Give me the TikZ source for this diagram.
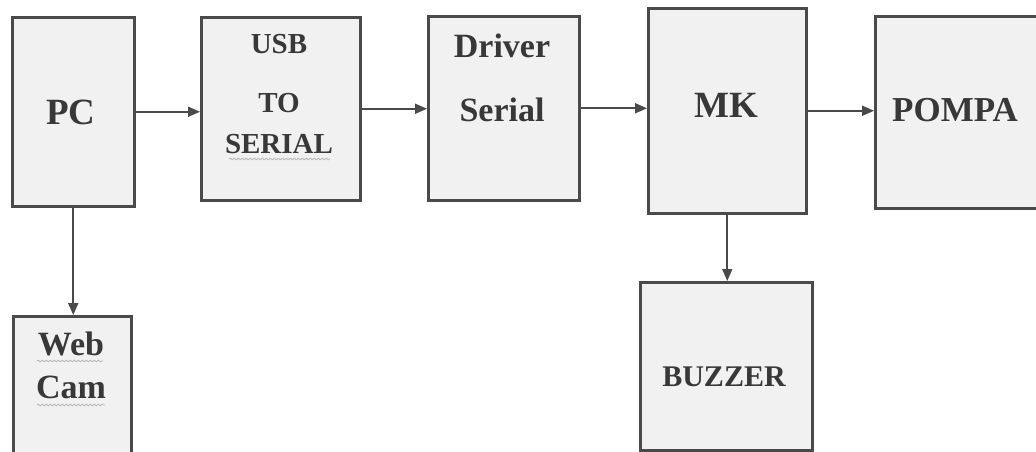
\documentclass[tikz,border=0pt]{standalone}
\usepackage{fontspec}
\setmainfont{Liberation Serif}
\usetikzlibrary{arrows.meta,decorations.pathmorphing}
\definecolor{boxfill}{HTML}{F1F1F1}
\definecolor{boxline}{HTML}{4A4A4A}
\definecolor{ink}{HTML}{383838}
\newcommand\bsize[1]{\bfseries\fontsize{#1}{#1}\selectfont}
\tikzset{
  block/.style={draw=boxline, line width=2.5pt, fill=boxfill, anchor=north west, inner sep=0pt},
  txt/.style={text=ink, inner sep=0pt},
  flow/.style={draw=boxline, line width=1.8pt, -{Triangle[length=12pt,width=10pt]}},
  squiggle/.style={draw=gray!55, line width=0.8pt, decorate,
    decoration={snake, amplitude=0.9pt, segment length=4pt}}
}
\begin{document}
\begin{tikzpicture}[x=1pt,y=-1pt]
\useasboundingbox[fill=white] (0,0) rectangle (1036,451);

% blocks
\node[block, minimum width=122pt, minimum height=189pt] (pc)     at (11,16)  {};
\node[block, minimum width=159pt, minimum height=183pt] (usb)    at (200,16) {};
\node[block, minimum width=151pt, minimum height=184pt] (drv)    at (427,15) {};
\node[block, minimum width=158pt, minimum height=205pt] (mk)     at (647,7)  {};
\node[block, minimum width=170pt, minimum height=192pt] (pompa)  at (874,15) {};
\node[block, minimum width=118pt, minimum height=145pt] (cam)    at (12,315) {};
\node[block, minimum width=172pt, minimum height=168pt] (buzzer) at (639,281) {};

% labels
\node[txt, font=\bsize{37}] (tpc) at (71,112) {PC};
\node[txt, font=\bsize{29}] (tusb1) at (279,44)  {USB};
\node[txt, font=\bsize{29}] (tusb2) at (279,103) {TO};
\node[txt, font=\bsize{29}] (tusb3) at (279,144) {SERIAL};
\node[txt, font=\bsize{34}] (tdrv1) at (502,46)  {Driver};
\node[txt, font=\bsize{34}] (tdrv2) at (502,110) {Serial};
\node[txt, font=\bsize{37}] (tmk) at (726,105) {MK};
\node[txt, font=\bsize{35}] (tpompa) at (955,110) {POMPA};
\node[txt, font=\bsize{34}] (tcam1) at (71,344) {Web};
\node[txt, font=\bsize{34}] (tcam2) at (71,387) {Cam};
\node[txt, font=\bsize{30}] (tbuzzer) at (724,377) {BUZZER};

% spell-check underlines
\coordinate (s1a) at (229,159); \coordinate (s1b) at (330,159);
\coordinate (s2a) at (37,361);  \coordinate (s2b) at (103,361);
\coordinate (s3a) at (37,405);  \coordinate (s3b) at (105,405);
\path[squiggle] (s1a) -- (s1b);
\path[squiggle] (s2a) -- (s2b);
\path[squiggle] (s3a) -- (s3b);

% connectors
\draw[flow] (pc.east) -- (usb.west |- pc.east);
\draw[flow] (usb.east) -- (drv.west |- usb.east);
\draw[flow] (drv.east) -- (mk.west |- drv.east);
\draw[flow] (mk.east) -- (pompa.west |- mk.east);
\draw[flow] (pc.south) -- (cam.north -| pc.south);
\draw[flow] (mk.south) -- (buzzer.north -| mk.south);
\end{tikzpicture}
\end{document}
